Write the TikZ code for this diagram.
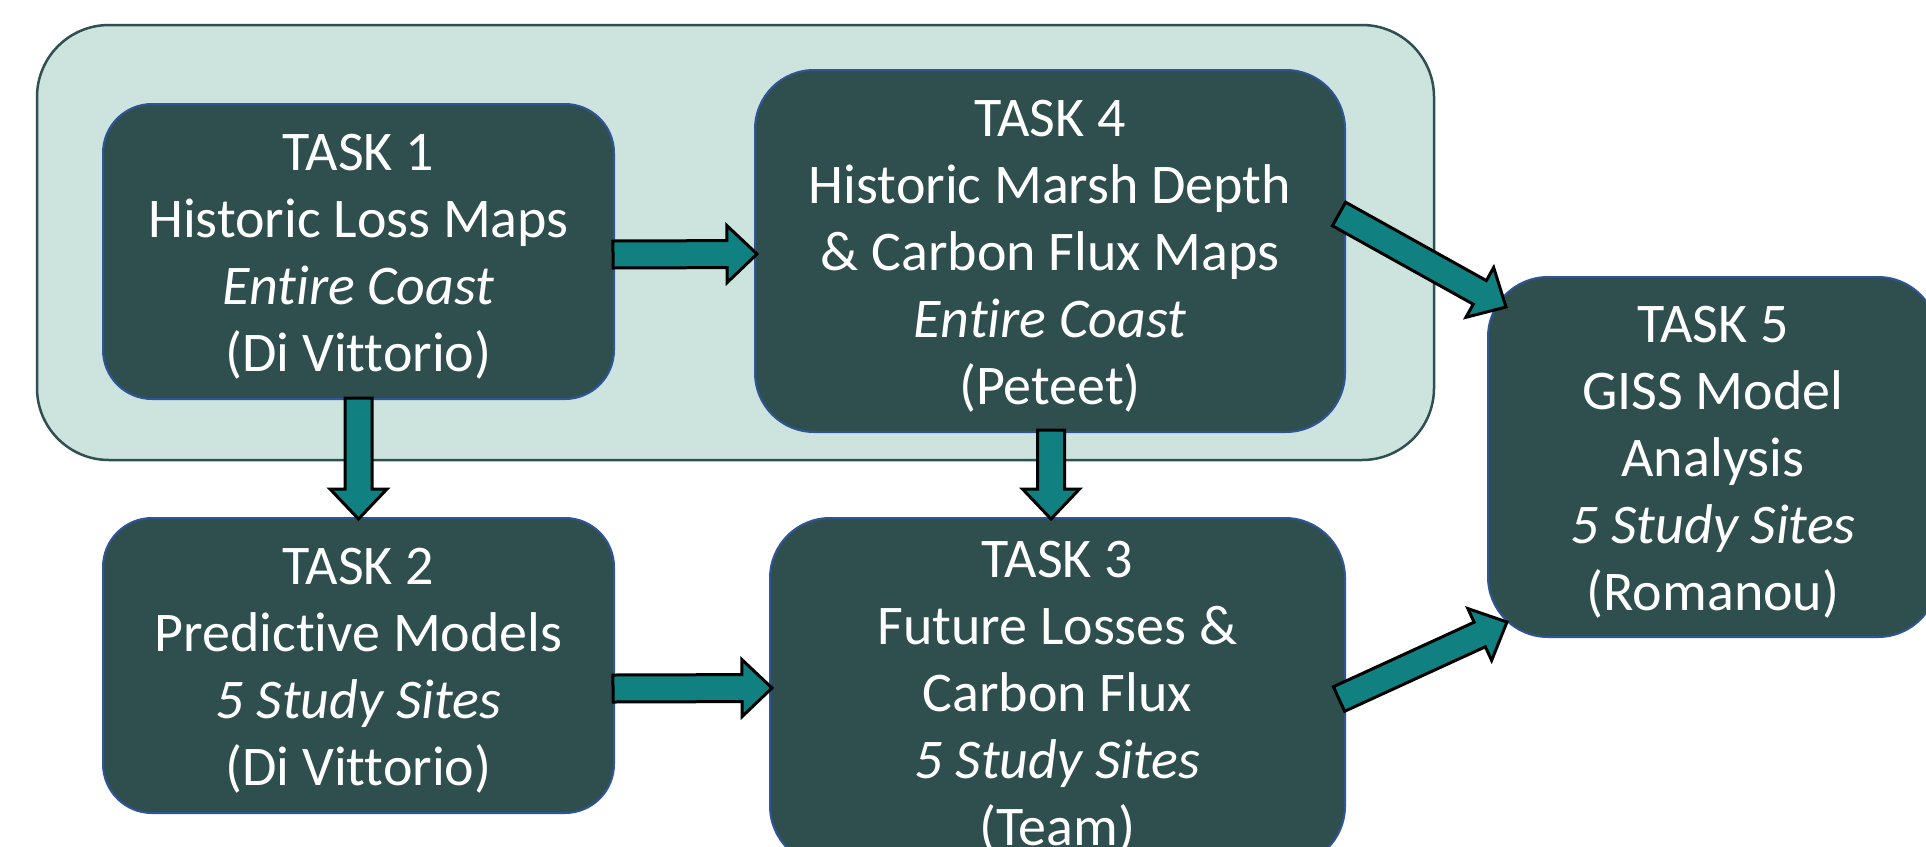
\documentclass[tikz,border=0pt]{standalone}
\usepackage{fontspec}
\setmainfont{Carlito}[Ligatures=NoCommon]
\usetikzlibrary{calc}

\definecolor{boxfill}{RGB}{47,79,79}
\definecolor{boxline}{RGB}{47,85,151}
\definecolor{panelfill}{RGB}{205,228,222}
\definecolor{panelline}{RGB}{47,80,80}
\definecolor{arrowfill}{RGB}{16,128,128}

\newcommand{\topgap}{\rule{0pt}{46pt}}

\tikzset{
  task/.style={draw=boxline, line width=2pt, fill=boxfill, text=white, align=center,
    outer sep=0pt, inner sep=0pt, font=\fontsize{56}{67}\selectfont},
  panel/.style={draw=panelline, line width=2.5pt, fill=panelfill, rounded corners=72pt},
  flow/.style={draw=black, line width=3pt, fill=arrowfill, line join=miter}
}

% block arrow from #1 to #2 (coordinate names)
\newcommand{\flowarrow}[2]{%
  \coordinate (hb) at ($(#2)!30pt!(#1)$);
  \draw[flow] ($(#1)!13.5pt!90:(#2)$) -- ($(hb)!13.5pt!90:(#2)$) -- ($(hb)!28.5pt!90:(#2)$) -- (#2)
    -- ($(hb)!28.5pt!-90:(#2)$) -- ($(hb)!13.5pt!-90:(#2)$) -- ($(#1)!13.5pt!-90:(#2)$) -- cycle;
}

\begin{document}
\begin{tikzpicture}[x=1pt, y=-1pt]
\useasboundingbox (0,0) rectangle (1926,846);
\clip (0,0) rectangle (1926,846);

\draw[panel] (37,25) rectangle (1434,460);

\node[task, minimum width=511pt, minimum height=295pt, rounded corners=49pt] (t1) at (358.5,251.5)
  {\topgap TASK 1\\Historic Loss Maps\\\textit{Entire Coast}\\(Di Vittorio)};
\node[task, minimum width=590pt, minimum height=362pt, rounded corners=59pt] (t4) at (1050,251)
  {\topgap TASK 4\\Historic Marsh Depth\\\& Carbon Flux Maps\\\textit{Entire Coast}\\(Peteet)};
\node[task, minimum width=511pt, minimum height=295pt, rounded corners=49pt] (t2) at (358.5,665.5)
  {\topgap TASK 2\\Predictive Models\\\textit{5 Study Sites}\\(Di Vittorio)};
\node[task, minimum width=575pt, minimum height=348pt, rounded corners=60pt] (t3) at (1057.5,692)
  {\topgap TASK 3\\Future Losses \&\\Carbon Flux\\\textit{5 Study Sites}\\(Team)};
\node[task, minimum width=450pt, minimum height=360pt, rounded corners=60pt] (t5) at (1713,457)
  {\topgap TASK 5\\GISS Model\\Analysis\\\textit{5 Study Sites}\\(Romanou)};

\coordinate (a14) at ($(t1.east)+(-1,3)$);
\coordinate (b14) at ($(t4.west)+(2,3)$);
\coordinate (a12) at ($(t1.south)+(0,-1)$);
\coordinate (b12) at ($(t2.north)+(0,1)$);
\coordinate (a43) at ($(t4.south)+(1,-2)$);
\coordinate (b43) at ($(a43 |- t3.north)+(0,1)$);
\coordinate (a23) at ($(t2.east)+(-1,23)$);
\coordinate (b23) at ($(t3.west)+(2,-4)$);
\coordinate (a45) at ($(t4.east)+(-6,-37)$);
\coordinate (b45) at ($(t5.north west)+(18,30)$);
\coordinate (a35) at ($(t3.east)+(-6,7)$);
\coordinate (b35) at ($(t5.south west)+(19,-15)$);

\flowarrow{a14}{b14}
\flowarrow{a12}{b12}
\flowarrow{a43}{b43}
\flowarrow{a23}{b23}
\flowarrow{a45}{b45}
\flowarrow{a35}{b35}
\end{tikzpicture}
\end{document}
